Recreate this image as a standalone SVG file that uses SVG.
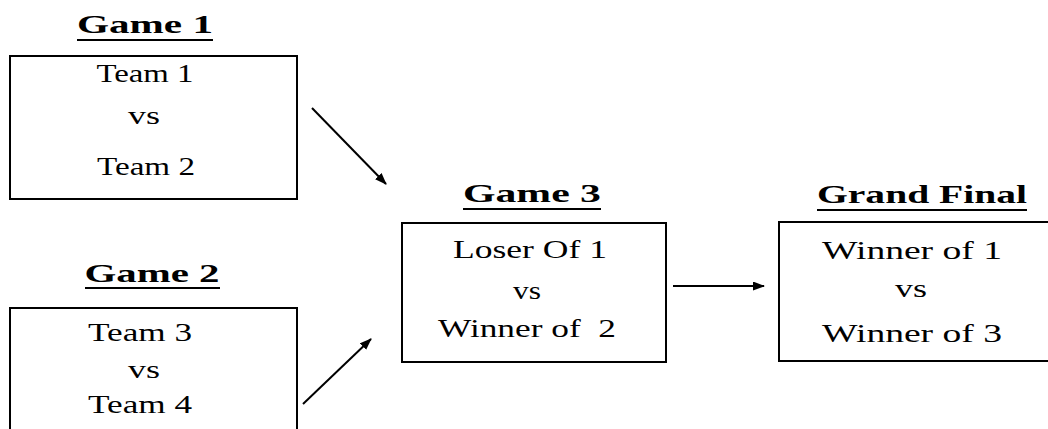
<svg xmlns="http://www.w3.org/2000/svg" width="1048" height="429" viewBox="0 0 1048 429">
<defs>
<style>
.box{fill:none;stroke:#000;stroke-width:2}
.t{font-family:"Liberation Serif","Times New Roman",serif;font-size:25px;fill:#000;text-anchor:middle}
.h{font-family:"Liberation Serif","Times New Roman",serif;font-size:25px;font-weight:bold;fill:#000;text-anchor:middle}
.ul{stroke:#000;stroke-width:2}
.c{stroke:#000;stroke-width:2;fill:none;marker-end:url(#ah)}
</style>
<marker id="ah" viewBox="0 0 12 9" refX="11" refY="4.5" markerWidth="6" markerHeight="4.5" markerUnits="strokeWidth" orient="auto">
<path d="M0,0 L12,4.5 L0,9 z" fill="#000"/>
</marker>
</defs>
<rect width="1048" height="429" fill="#fff"/>
<g id="game1">
<text class="h" x="145" y="33" textLength="136" lengthAdjust="spacingAndGlyphs">Game 1</text>
<line class="ul" x1="77" y1="40" x2="213" y2="40"/>
<rect class="box" x="10" y="56" width="287" height="143"/>
<text class="t" x="145" y="82" textLength="97" lengthAdjust="spacingAndGlyphs">Team 1</text>
<text class="t" x="144" y="124" textLength="32" lengthAdjust="spacingAndGlyphs">vs</text>
<text class="t" x="146" y="175" textLength="98" lengthAdjust="spacingAndGlyphs">Team 2</text>
</g>
<g id="game2">
<text class="h" x="152" y="282" textLength="135" lengthAdjust="spacingAndGlyphs">Game 2</text>
<line class="ul" x1="85" y1="288" x2="220" y2="288"/>
<rect class="box" x="10" y="308" width="287" height="130"/>
<text class="t" x="140" y="341" textLength="104" lengthAdjust="spacingAndGlyphs">Team 3</text>
<text class="t" x="144" y="378" textLength="32" lengthAdjust="spacingAndGlyphs">vs</text>
<text class="t" x="140" y="413" textLength="104" lengthAdjust="spacingAndGlyphs">Team 4</text>
</g>
<g id="game3">
<text class="h" x="532" y="202" textLength="138" lengthAdjust="spacingAndGlyphs">Game 3</text>
<line class="ul" x1="463" y1="209" x2="601" y2="209"/>
<rect class="box" x="402" y="223" width="264" height="139"/>
<text class="t" x="530" y="258" textLength="154" lengthAdjust="spacingAndGlyphs">Loser Of 1</text>
<text class="t" x="527" y="299" textLength="28" lengthAdjust="spacingAndGlyphs">vs</text>
<text class="t" x="527" y="337" textLength="178" lengthAdjust="spacingAndGlyphs" xml:space="preserve">Winner of  2</text>
</g>
<g id="grandfinal">
<text class="h" x="922" y="203" textLength="210" lengthAdjust="spacingAndGlyphs">Grand Final</text>
<line class="ul" x1="817" y1="210" x2="1027" y2="210"/>
<rect class="box" x="779" y="222" width="280" height="139"/>
<text class="t" x="912" y="259" textLength="180" lengthAdjust="spacingAndGlyphs">Winner of 1</text>
<text class="t" x="911" y="297" textLength="32" lengthAdjust="spacingAndGlyphs">vs</text>
<text class="t" x="912" y="342" textLength="180" lengthAdjust="spacingAndGlyphs">Winner of 3</text>
</g>
<g id="connectors">
<line class="c" x1="312" y1="108" x2="386" y2="184"/>
<line class="c" x1="303" y1="404" x2="371" y2="339"/>
<line class="c" x1="673" y1="286" x2="764" y2="286"/>
</g>
</svg>
